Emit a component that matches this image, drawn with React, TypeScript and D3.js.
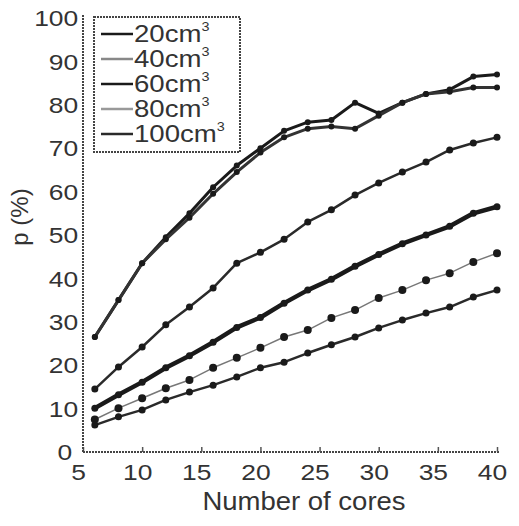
import { useRef, useEffect } from 'react';
import * as d3 from 'd3';

const cores = [6, 8, 10, 12, 14, 16, 18, 20, 22, 24, 26, 28, 30, 32, 34, 36, 38, 40];
// 20cm3 shows two almost overlapping traces in the top band
const p20 = [26.5, 35, 43.5, 49.5, 55, 61, 66, 70, 74, 76, 76.5, 80.5, 78, 80.5, 82.5, 83.5, 86.5, 87];
const p20b = [26.5, 35, 43.5, 49, 54, 59.5, 64.5, 69, 72.5, 74.5, 75, 74.5, 77.5, 80.5, 82.5, 83, 84, 84];
const p40 = [14.5, 19.6, 24.2, 29.3, 33.4, 37.8, 43.5, 46, 49, 53, 55.8, 59.2, 62, 64.5, 66.8, 69.6, 71.2, 72.5];
const p60 = [10.1, 13.2, 16.1, 19.4, 22.2, 25.3, 28.7, 31, 34.3, 37.3, 39.8, 42.8, 45.5, 48, 50, 52, 55, 56.5];
const p80 = [7.5, 10.1, 12.4, 14.7, 16.6, 19.4, 21.7, 24, 26.5, 28.1, 30.9, 32.7, 35.5, 37.3, 39.6, 41.2, 43.8, 45.8];
const p100 = [6.2, 8.1, 9.7, 12, 13.8, 15.4, 17.3, 19.4, 20.7, 22.8, 24.7, 26.5, 28.6, 30.4, 32, 33.4, 35.7, 37.3];

const legendLabels = ['20cm', '40cm', '60cm', '80cm', '100cm'];
const xTicks = [5, 10, 15, 20, 25, 30, 35, 40];
const yTicks = [0, 10, 20, 30, 40, 50, 60, 70, 80, 90, 100];

export default function App() {
  const svgRef = useRef<SVGSVGElement>(null);

  useEffect(() => {
    const svg = d3.select(svgRef.current);
    svg.selectAll('*').remove();

    const x = d3.scaleLinear().domain([5, 40]).range([83, 497]);
    const y = d3.scaleLinear().domain([0, 100]).range([452, 18]);
    const font = '"Liberation Sans", Arial, sans-serif';

    const series = [
      { values: p20, color: '#1a1a1a', width: 3, r: 3 },
      { values: p20b, color: '#333', width: 3, r: 3 },
      { values: p40, color: '#2a2a2a', width: 2.5, r: 3.5 },
      { values: p60, color: '#1a1a1a', width: 4.5, r: 3.5 },
      { values: p80, color: '#777', width: 1.5, r: 4 },
      { values: p100, color: '#2a2a2a', width: 2.5, r: 3.5 },
    ];

    // axes
    const xAxis = svg
      .append('g')
      .attr('transform', `translate(0, ${y(0)})`)
      .call(d3.axisBottom(x).tickValues(xTicks).tickSize(-5).tickSizeOuter(0).tickPadding(12));
    const yAxis = svg
      .append('g')
      .attr('transform', `translate(${x(5)}, 0)`)
      .call(d3.axisLeft(y).tickValues(yTicks).tickSize(0).tickPadding(4));

    [xAxis, yAxis].forEach((g) => {
      g.select('.domain').attr('stroke', '#444').attr('stroke-width', 2).attr('stroke-dasharray', '2,1');
      g.selectAll('.tick line').attr('stroke', '#555').attr('stroke-width', 1.5);
      g.selectAll('.tick text').attr('font-family', font).attr('font-size', 22).attr('fill', '#333');
    });
    xAxis.select('.domain').attr('d', `M${x(5)},0H${x(40) + 3}`);
    yAxis.select('.domain').attr('d', `M0,${y(0)}V${y(100) - 3}`);
    xAxis.selectAll('.tick text').attr('transform', 'translate(-5,0) scale(1.2,1)');
    yAxis.selectAll('.tick text').attr('dy', '0.35em').attr('transform', 'scale(1.2,1)');
    yAxis.selectAll('.tick').filter((d: any) => d === 0).select('text').attr('transform', 'translate(-6,0) scale(1.2,1)');

    // lines and markers
    const line = d3
      .line<number>()
      .x((_, i) => x(cores[i]))
      .y((d) => y(d));

    series.forEach((s) => {
      svg
        .append('path')
        .datum(s.values)
        .attr('d', line)
        .attr('fill', 'none')
        .attr('stroke', s.color)
        .attr('stroke-width', s.width)
        .attr('stroke-linejoin', 'round');
      svg
        .append('g')
        .selectAll('circle')
        .data(s.values)
        .join('circle')
        .attr('cx', (_, i) => x(cores[i]))
        .attr('cy', (d) => y(d))
        .attr('r', s.r)
        .attr('fill', '#1a1a1a');
    });

    // axis titles
    svg
      .append('text')
      .attr('x', 304)
      .attr('y', 510)
      .attr('text-anchor', 'middle')
      .attr('font-family', font)
      .attr('font-size', 25)
      .attr('fill', '#333')
      .attr('transform', 'translate(304,0) scale(1.1,1) translate(-304,0)')
      .text('Number of cores');
    svg
      .append('text')
      .attr('transform', 'translate(28, 217) rotate(-90)')
      .attr('text-anchor', 'middle')
      .attr('font-family', font)
      .attr('font-size', 24)
      .attr('fill', '#333')
      .text('p (%)');

    // legend
    const legend = svg.append('g');
    legend
      .append('rect')
      .attr('x', 94)
      .attr('y', 17)
      .attr('width', 146)
      .attr('height', 135)
      .attr('fill', 'white')
      .attr('stroke', '#444')
      .attr('stroke-width', 2)
      .attr('stroke-dasharray', '2,1');
    const legendColors = ['#1a1a1a', '#888', '#1a1a1a', '#999', '#2a2a2a'];
    legendLabels.forEach((label, i) => {
      const ly = 34 + i * 25;
      legend
        .append('line')
        .attr('x1', 101)
        .attr('x2', 133)
        .attr('y1', ly)
        .attr('y2', ly)
        .attr('stroke', legendColors[i])
        .attr('stroke-width', 2.5);
      const t = legend
        .append('text')
        .attr('x', 0)
        .attr('y', ly + 8)
        .attr('font-family', font)
        .attr('font-size', 23)
        .attr('fill', '#333')
        .attr('transform', `translate(134,0) scale(1.2,1)`);
      t.append('tspan').text(label);
      t.append('tspan').attr('font-size', 12).attr('dy', -11).text('3');
    });
  }, []);

  return (
    <div>
      <svg
        ref={svgRef}
        width={519}
        height={526}
        style={{ position: 'absolute', left: 0, top: 0, background: 'white' }}
      />
    </div>
  );
}
